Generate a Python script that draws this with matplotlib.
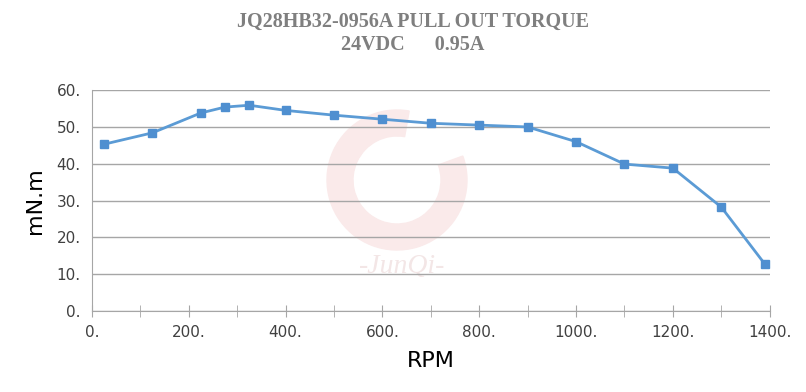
import matplotlib.pyplot as plt
from matplotlib.ticker import MultipleLocator, FuncFormatter
from matplotlib.patches import Wedge

# Data
rpm = [25, 125, 225, 275, 325, 400, 500, 600, 700, 800, 900, 1000, 1100, 1200, 1300, 1390]
torque = [45.3, 48.4, 53.8, 55.4, 55.9, 54.5, 53.2, 52.1, 51.0, 50.5, 50.0, 46.0, 39.9, 38.8, 28.2, 12.7]

title_lines = ["JQ28HB32-0956A PULL OUT TORQUE", "24VDC      0.95A"]

grid_col = '#a6a6a6'

fig = plt.figure(figsize=(8.06, 3.92), dpi=100)
ax = fig.add_axes([0.114, 0.207, 0.841, 0.563])

# faint logo watermark (ring + text), drawn in pixel coordinates behind the axes
ring = Wedge((397, 212), 70, 80, 20, width=26, color='#faeaea', transform=None, zorder=-5)
fig.patches.append(ring)
ax.text(640, 12, "-JunQi-", fontsize=20, style='italic', family='Liberation Serif',
        color='#f3e6e6', ha='center', va='center', zorder=0)

ax.plot(rpm, torque, color='#5b9bd5', lw=2, marker='s', markersize=6,
        markerfacecolor='#4f8fd0', markeredgecolor='#4f8fd0', zorder=3)

ax.set_xlim(0, 1400)
ax.set_ylim(0, 60)
ax.xaxis.set_major_locator(MultipleLocator(200))
ax.xaxis.set_minor_locator(MultipleLocator(100))
ax.yaxis.set_major_locator(MultipleLocator(10))
fmt = FuncFormatter(lambda v, p: f"{int(round(v))}.")
ax.xaxis.set_major_formatter(fmt)
ax.yaxis.set_major_formatter(fmt)

ax.patch.set_alpha(0)
ax.grid(axis='y', color=grid_col, lw=1)
ax.set_axisbelow(True)
for s in ['top', 'right']:
    ax.spines[s].set_visible(False)
ax.spines['bottom'].set_color(grid_col)
ax.spines['left'].set_color(grid_col)
ax.tick_params(axis='x', which='both', direction='inout', length=8, color=grid_col, pad=6)
ax.tick_params(axis='y', length=0, pad=8)
for lab in ax.get_xticklabels() + ax.get_yticklabels():
    lab.set_fontsize(11)
    lab.set_color('#404040')

ax.set_xlabel("RPM", fontsize=16, labelpad=8)
ax.set_ylabel("mN.m", fontsize=16, labelpad=8)

fig.text(0.512, 0.945, title_lines[0], ha='center', va='center', fontsize=14.5,
         family='Liberation Serif', weight='bold', color='#7f7f7f')
fig.text(0.512, 0.885, title_lines[1], ha='center', va='center', fontsize=14.5,
         family='Liberation Serif', weight='bold', color='#7f7f7f')

fig.savefig('out.png', dpi=100)
